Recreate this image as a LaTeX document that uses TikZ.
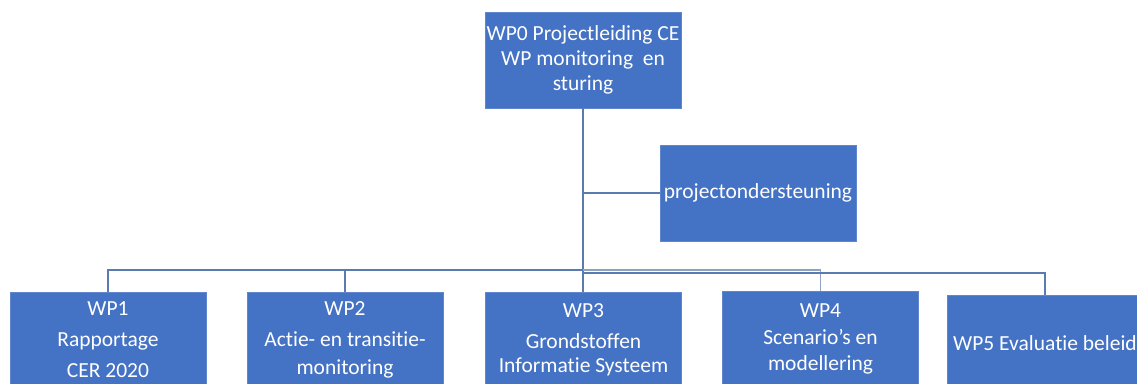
\documentclass[tikz,border=0pt]{standalone}
\usepackage{fontspec}
\setmainfont[RawFeature={-liga;-dlig}]{Carlito}
\definecolor{boxblue}{HTML}{4472C4}
\definecolor{lineblue}{HTML}{5A7BB0}
\definecolor{linegray}{HTML}{8EA2C2}
\begin{document}
\begin{tikzpicture}[x=1pt,y=-1pt,
  wpbox/.style={fill=boxblue, draw=boxblue!85!white, line width=0.6pt, text=white,
    minimum width=196pt, minimum height=96pt, inner sep=0pt, align=center,
    font=\fontsize{21.5}{25}\selectfont},
  conn/.style={draw=lineblue, line width=1.1pt},
  conn2/.style={draw=linegray, line width=1.1pt}]
\useasboundingbox (0,0) rectangle (1137,383);
\clip (0,0) rectangle (1137,383);
\fill[white] (0,0) rectangle (1137,383);
% nodes
\node[wpbox] (wp0) at (583,60) {WP0 Projectleiding CE\\WP monitoring\ \ en\\sturing};
\node[wpbox] (sup) at (758,193) {projectondersteuning};
\node[wpbox] (wp1) at (108,340) {WP1\\[6pt]Rapportage\\[6pt]CER 2020};
\node[wpbox] (wp2) at (345,340) {WP2\\[6pt]Actie- en transitie-\\[3pt]monitoring};
\node[wpbox] (wp3) at (583.5,340) {WP3\\[6pt]Grondstoffen\\[-1pt]Informatie Systeem};
\node[wpbox] (wp4) at (820.5,339) {WP4\\[2pt]Scenario’s en\\[1pt]modellering};
\node[wpbox] (wp5) at (1045,343) {WP5 Evaluatie beleid};
% bus coordinates
\coordinate (bus) at (583,270);
\coordinate (bus2) at (583,273);
% connectors
\draw[conn] (wp0.south) -- (wp0.south |- wp3.north);
\draw[conn] (wp0.south) |- (sup.west);
\draw[conn] (wp1.north) |- (bus);
\draw[conn] (wp2.north) |- (bus);
\draw[conn2] (wp4.north) |- (bus);
\draw[conn] (wp5.north) |- (bus2);
\end{tikzpicture}
\end{document}
